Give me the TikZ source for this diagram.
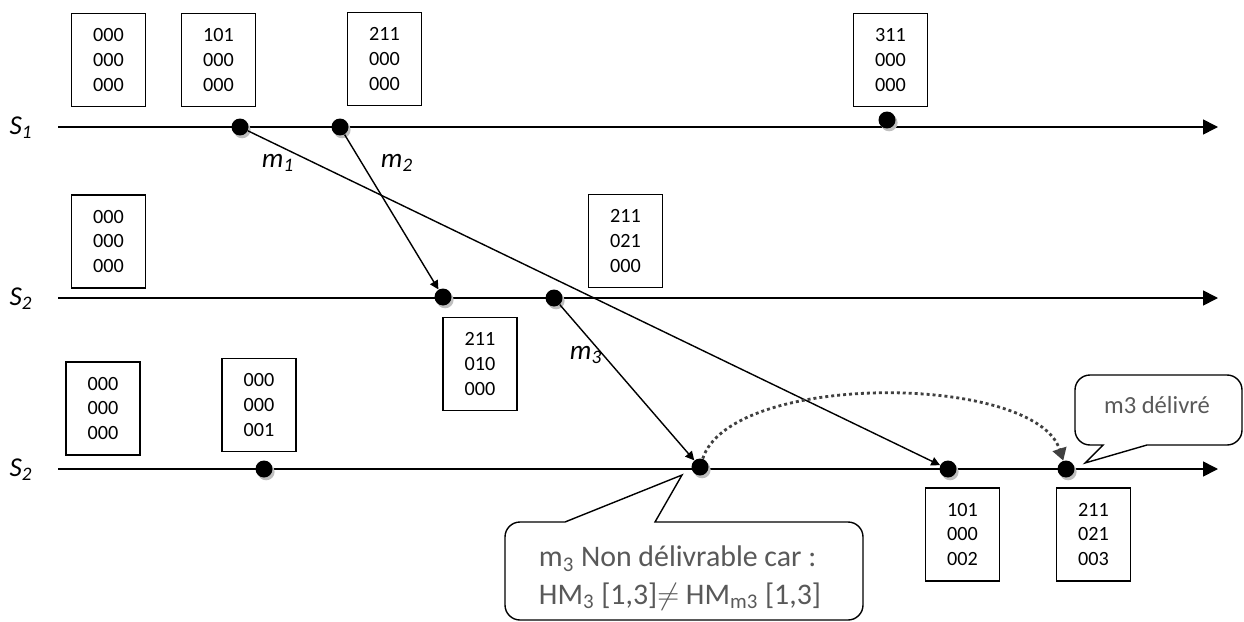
\documentclass[tikz,border=0pt]{standalone}
\usepackage{fontspec}
\setmainfont{Carlito}
\usetikzlibrary{arrows.meta,shadows}
\definecolor{notegray}{HTML}{595959}
\definecolor{dotgray}{HTML}{404040}
\begin{document}
\begin{tikzpicture}[x=0.02cm,y=-0.02cm]
  % Define styles for the different elements
  \tikzstyle{clock} = [rectangle, draw, line width=0.9pt, minimum width=1.48cm, minimum height=1.86cm, align=center, inner sep=0pt, font=\fontsize{11.5}{14.2}\selectfont]
  \tikzstyle{event} = [circle, fill=black, minimum size=0.34cm, inner sep=0pt, drop shadow={shadow xshift=1.2pt, shadow yshift=-1.6pt, fill=black!25, opacity=1}]
  \tikzstyle{timeline} = [draw, line width=0.9pt, -{Triangle[length=8.5pt,width=8.5pt]}]
  \tikzstyle{msg} = [draw, line width=0.8pt, -{Triangle[length=5pt,width=5pt]}]
  \tikzstyle{proc} = [font=\fontsize{15.5}{18}\selectfont\itshape]
  \tikzstyle{bubble} = [draw, line width=0.8pt, fill=white]
  \useasboundingbox (0,0) rectangle (1244,622);

  % Process lines
  \coordinate (s1a) at (58,127);   \coordinate (s1b) at (1218,127);
  \coordinate (s2a) at (58,298);   \coordinate (s2b) at (1218,298);
  \coordinate (s3a) at (58,469);   \coordinate (s3b) at (1218,469);
  \draw[timeline] (s1a) -- (s1b);
  \draw[timeline] (s2a) -- (s2b);
  \draw[timeline] (s3a) -- (s3b);

  \node[proc] (p1) at (21,128) {S\textsubscript{1}};
  \node[proc] (p2) at (21,299) {S\textsubscript{2}};
  \node[proc] (p3) at (21,470) {S\textsubscript{2}};

  % Events
  \node[event] (e11) at (240,127) {};
  \node[event] (e12) at (340,127) {};
  \node[event] (e13) at (887,120) {};
  \node[event] (e21) at (443,297) {};
  \node[event] (e22) at (554,298) {};
  \node[event] (e31) at (264,469) {};
  \node[event] (e32) at (700,467) {};
  \node[event] (e33) at (948,469) {};
  \node[event] (e34) at (1066,469) {};

  % Vector clocks
  \node[clock] (c10) at (108.5,60) {000\\000\\000};
  \node[clock] (c11) at (218.5,60) {101\\000\\000};
  \node[clock] (c12) at (384.5,59) {211\\000\\000};
  \node[clock] (c13) at (890.5,60) {311\\000\\000};
  \node[clock] (c20) at (108.5,241.5) {000\\000\\000};
  \node[clock] (c22) at (625.5,241) {211\\021\\000};
  \node[clock] (c21) at (480,364) {211\\010\\000};
  \node[clock] (c30) at (103,408.5) {000\\000\\000};
  \node[clock] (c31) at (259,405) {000\\000\\001};
  \node[clock] (c33) at (962.5,534.5) {101\\000\\002};
  \node[clock] (c34) at (1093.5,534.5) {211\\021\\003};

  % Messages
  \draw[msg] (e11) -- (e33);
  \draw[msg] (e12) -- (e21);
  \draw[msg] (e22) -- (e32);
  \node[proc] (m1) at (278,163) {m\textsubscript{1}};
  \node[proc] (m2) at (397,163) {m\textsubscript{2}};
  \node[proc] (m3) at (586,355) {m\textsubscript{3}};

  % Delayed delivery
  \draw[dotgray, line width=1.6pt, dash pattern=on 1.7pt off 1.7pt, -{Triangle[length=7pt,width=8pt]}]
    (e32) to[out=72, in=108, looseness=0.65] (e34);

  % Callouts
  \draw[bubble] (684,620) [rounded corners=0.3cm] -- (505,620) -- (505,522) [sharp corners] -- (565,522)
    -- (682,475) -- (655,522) [rounded corners=0.3cm] -- (863,522) -- (863,620) -- cycle;
  \node[notegray, align=left, font=\fontsize{17}{21.6}\selectfont] (n1) at (680,578)
    {m\textsubscript{3} Non délivrable car :\\HM\textsubscript{3} [1,3]$\neq$ HM\textsubscript{m3} [1,3]};
  \draw[bubble] (1150,375) [rounded corners=0.3cm] -- (1075,375) -- (1075,445) [sharp corners] -- (1103,445)
    -- (1085,463) -- (1147,445) [rounded corners=0.3cm] -- (1242,445) -- (1242,375) -- cycle;
  \node[notegray, font=\fontsize{14}{17}\selectfont] (n2) at (1157,405) {m3 délivré};
\end{tikzpicture}
\end{document}
